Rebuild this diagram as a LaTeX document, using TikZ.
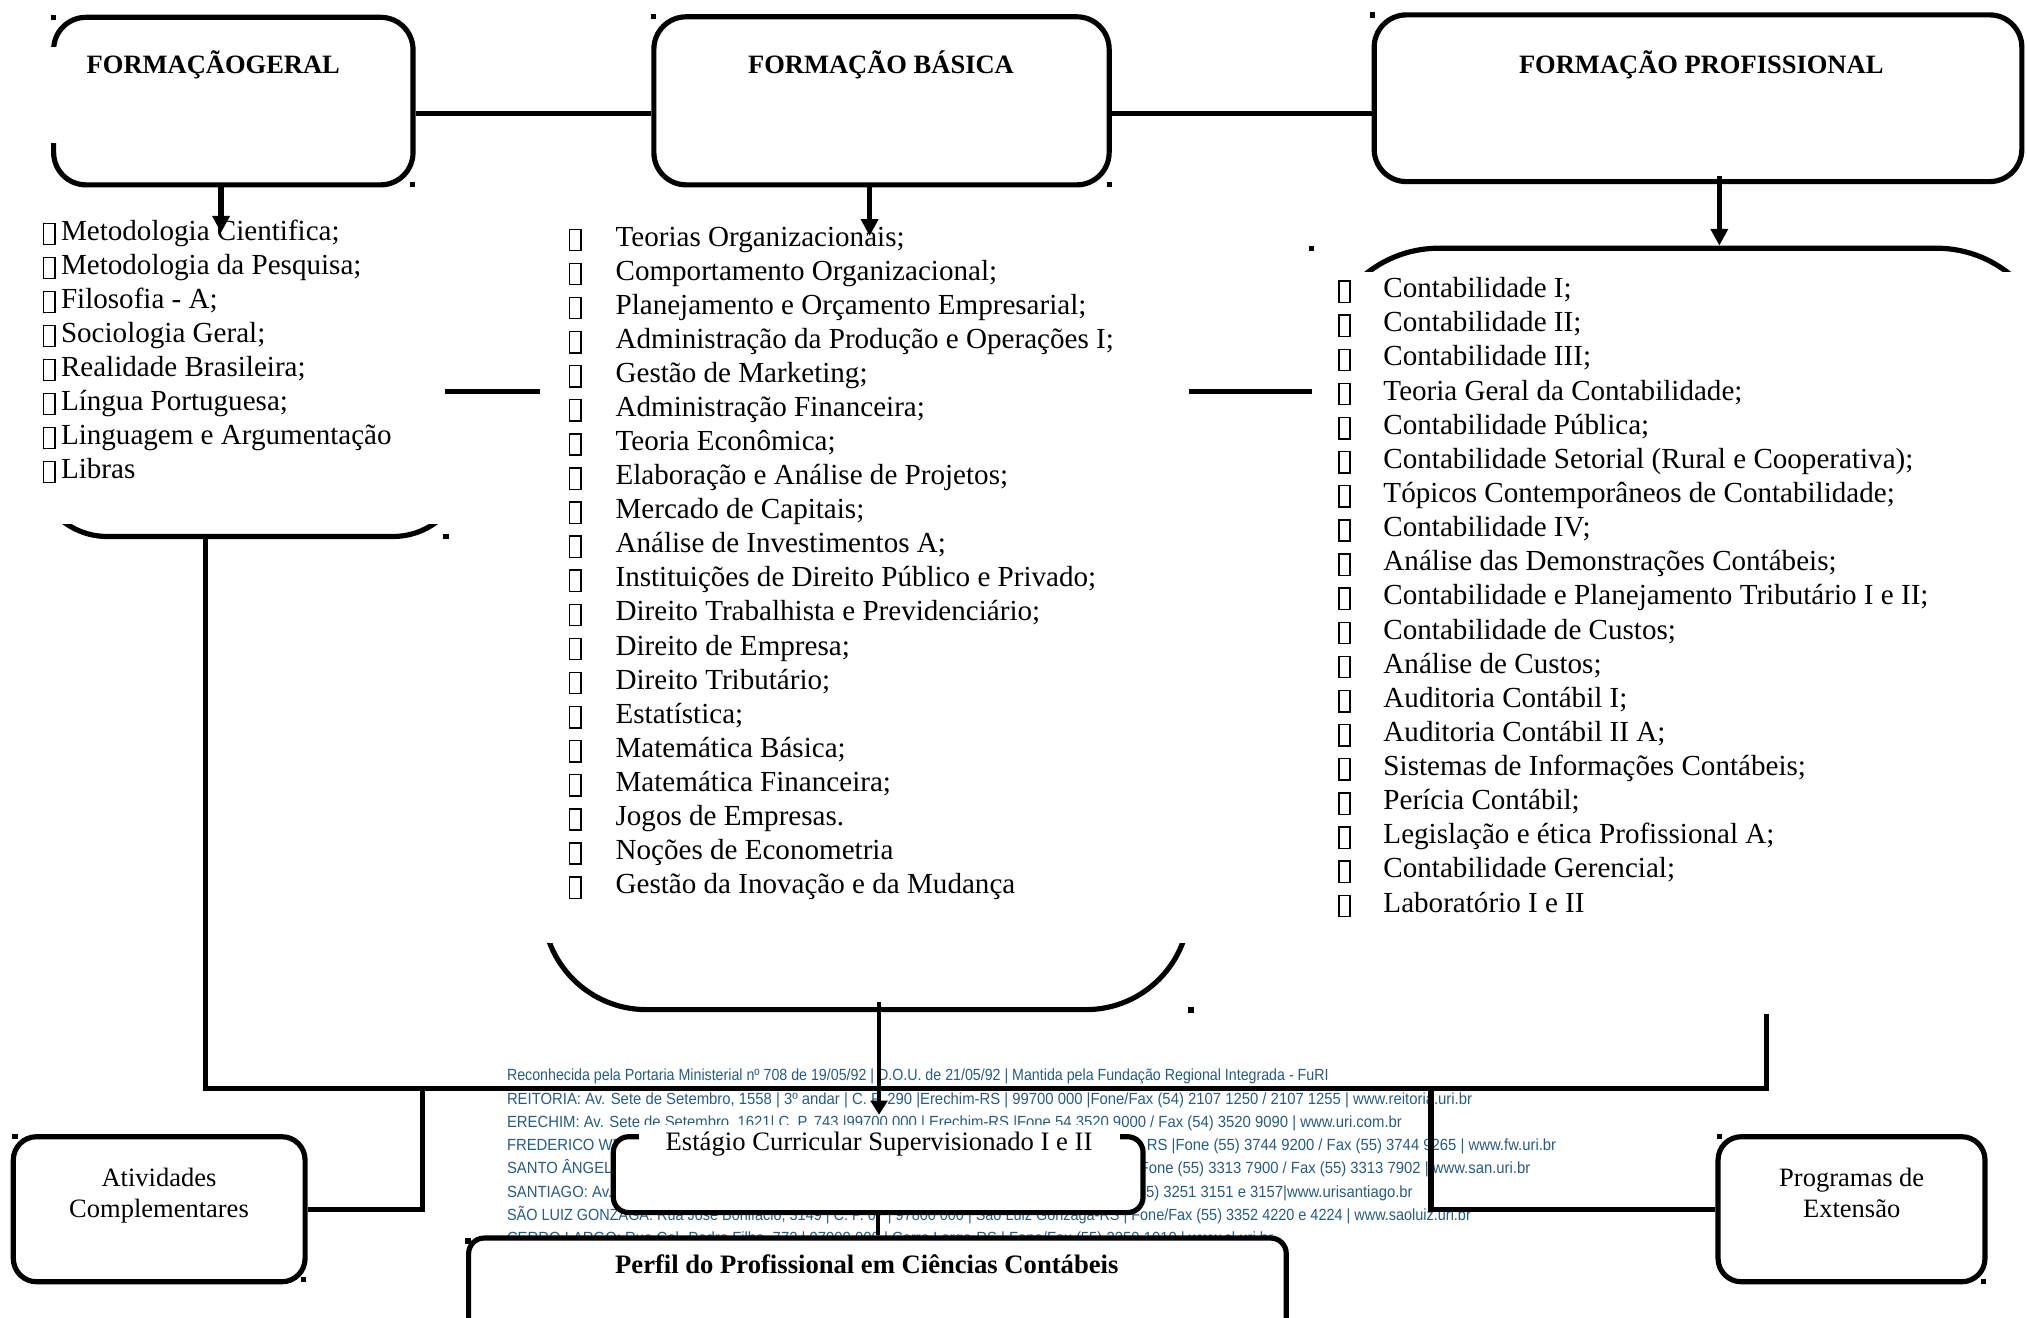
\documentclass[tikz,border=0pt]{standalone}
\usepackage{fontspec}
\setmainfont{Liberation Serif}
\newfontfamily\footfont[FakeStretch=0.92]{Liberation Sans}
\usetikzlibrary{arrows.meta}
\definecolor{footblue}{RGB}{38,92,132}
\newcommand\tofu{\raisebox{-3pt}{\setlength\fboxsep{0pt}\setlength\fboxrule{1.1pt}\fbox{\rule{0pt}{15.4pt}\hspace{7.6pt}}}}
\begin{document}
\begin{tikzpicture}[x=1pt,y=-1pt,
  bx/.style={draw, line width=4pt, rounded corners=25pt, inner sep=0pt},
  ln/.style={line width=4pt},
  arr/.style={line width=4pt, -{Triangle[length=13pt,width=13pt]}},
  hd/.style={font=\bfseries\fontsize{20.5}{24}\selectfont, inner sep=0pt, anchor=base},
  it/.style={font=\fontsize{22.5}{26}\selectfont, inner sep=0pt, anchor=base west},
  lab/.style={font=\fontsize{20.5}{23.5}\selectfont, inner sep=0pt, align=center},
  foot/.style={font=\footfont\fontsize{12.5}{13}\selectfont, text=footblue, inner sep=0pt},
  mk/.style={fill=black}
]
\useasboundingbox (0,0) rectangle (1568,1019);

% ---------- footer (letterhead) ----------
\node[foot, anchor=base west] (f1) at (392,836) {\scalebox{0.957}[1]{Reconhecida pela Portaria Ministerial nº 708 de 19/05/92 | D.O.U. de 21/05/92 | Mantida pela Fundação Regional Integrada - FuRI}};
\node[foot, anchor=base west] (f2) at (392,854) {REITORIA: Av. Sete de Setembro, 1558 | 3º andar | C. P. 290 |Erechim-RS | 99700 000 |Fone/Fax (54) 2107 1250 / 2107 1255 | www.reitoria.uri.br};
\node[foot, anchor=base west] (f3) at (392,872) {ERECHIM: Av. Sete de Setembro, 1621| C. P. 743 |99700 000 | Erechim-RS |Fone 54 3520 9000 / Fax (54) 3520 9090 | www.uri.com.br};
\node[foot, anchor=base west] (f4a) at (392,890) {FREDERICO WES};
\node[foot, anchor=base east] (f4b) at (1204,890) {RS |Fone (55) 3744 9200 / Fax (55) 3744 9265 | www.fw.uri.br};
\node[foot, anchor=base west] (f5a) at (392,908) {SANTO ÂNGELO};
\node[foot, anchor=base east] (f5b) at (1184,908) {Fone (55) 3313 7900 / Fax (55) 3313 7902 | www.san.uri.br};
\node[foot, anchor=base west] (f6a) at (392,926) {SANTIAGO: Av.};
\node[foot, anchor=base east] (f6b) at (1093,926) {5) 3251 3151 e 3157|www.urisantiago.br};
\node[foot, anchor=base west] (f7) at (392,944) {\scalebox{0.972}[1]{SÃO LUIZ GONZAGA: Rua José Bonifácio, 3149 | C. P. 07 | 97800 000 | São Luiz Gonzaga-RS | Fone/Fax (55) 3352 4220 e 4224 | www.saoluiz.uri.br}};
\node[foot, anchor=base west] (f8) at (392,962) {CERRO LARGO: Rua Cel. Pedro Filho, 772 | 97900 000 | Cerro Largo-RS | Fone/Fax (55) 3359 1010 | www.cl.uri.br};

% ---------- top boxes ----------
\node[bx, minimum width=278pt, minimum height=129.6pt] (B1) at (180.5,78.2) {};
\node[bx, minimum width=352.2pt, minimum height=130pt] (B2) at (681.9,78) {};
\node[bx, minimum width=501pt, minimum height=129pt] (B3) at (1313.5,76) {};
\fill[white] (37,36) rectangle (46,111);
\node[hd] (h1) at (165,56.7) {FORMAÇÃOGERAL};
\node[hd] (h2) at (681.5,56.7) {FORMAÇÃO BÁSICA};
\node[hd] (h3) at (1316,56.7) {FORMAÇÃO PROFISSIONAL};

\draw[ln] ([yshift=-9.8pt]B1.east) -- ([yshift=-9.8pt]B1.east -| B2.west);
\draw[ln] ([yshift=-10pt]B2.east) -- ([yshift=-10pt]B2.east -| B3.west);

% ---------- list containers (only partly visible) ----------
\begin{scope}
\clip (0,406) rectangle (400,430);
\node[bx, rounded corners=56pt, minimum width=333pt, minimum height=255pt] (Lbox) at (193.5,287.5) {};
\end{scope}
\begin{scope}
\clip (400,730) rectangle (940,800);
\node[bx, rounded corners=80pt, minimum width=500pt, minimum height=611pt] (Mbox) at (670,475.5) {};
\end{scope}
\begin{scope}
\clip (1000,180) rectangle (1568,210);
\node[bx, rounded corners=90pt, minimum width=565pt, minimum height=592pt] (Rbox) at (1305.5,488) {};
\end{scope}

% ---------- lists ----------
\foreach \t [count=\i from 0] in {Metodologia Cientifica;, Metodologia da Pesquisa;, Filosofia - A;, Sociologia Geral;, Realidade Brasileira;, Língua Portuguesa;, Linguagem e Argumentação, Libras}
  \node[it] (gen\i) at (33,{185.7+26.3*\i}) {\makebox[14pt][l]{\tofu}\t};

\foreach \t [count=\i from 0] in {Teorias Organizacionais;, Comportamento Organizacional;, Planejamento e Orçamento Empresarial;, Administração da Produção e Operações I;, Gestão de Marketing;, Administração Financeira;, Teoria Econômica;, Elaboração e Análise de Projetos;, Mercado de Capitais;, Análise de Investimentos A;, Instituições de Direito Público e Privado;, Direito Trabalhista e Previdenciário;, Direito de Empresa;, Direito Tributário;, Estatística;, Matemática Básica;, Matemática Financeira;, Jogos de Empresas., Noções de Econometria, Gestão da Inovação e da Mudança}
  \node[it] (bas\i) at (440,{190.3+26.37*\i}) {\makebox[36pt][l]{\tofu}\t};

\foreach \t [count=\i from 0] in {Contabilidade I;, Contabilidade II;, Contabilidade III;, Teoria Geral da Contabilidade;, Contabilidade Pública;, Contabilidade Setorial (Rural e Cooperativa);, Tópicos Contemporâneos de Contabilidade;, Contabilidade IV;, Análise das Demonstrações Contábeis;, Contabilidade e Planejamento Tributário I e II;, Contabilidade de Custos;, Análise de Custos;, Auditoria Contábil I;, Auditoria Contábil II A;, Sistemas de Informações Contábeis;, Perícia Contábil;, Legislação e ética Profissional A;, Contabilidade Gerencial;, Laboratório I e II}
  \node[it] (pro\i) at (1035,{230.3+26.4*\i}) {\makebox[35pt][l]{\tofu}\t};

% ---------- arrows from top boxes ----------
\draw[arr] ([xshift=-9.5pt]B1.south) -- ++(0,35);
\draw[arr] ([xshift=-9.2pt]B2.south) -- ++(0,37.5);
\draw[arr] ([xshift=16.5pt,yshift=6.5pt]B3.south) -- ([xshift=16.5pt]B3.south |- Rbox.north);

% ---------- side links between lists ----------
\coordinate (jL) at (344,303);
\coordinate (jR) at (1015,303);
\draw[ln] (jL) -- (jL -| Mbox.west);
\draw[ln] ([xshift=-2pt]Mbox.east |- jR) -- (jR);

% ---------- bottom boxes ----------
\node[bx, rounded corners=18pt, minimum width=225.7pt, minimum height=112.2pt, fill=white] (Atv) at (123.15,935.4) {};
\node[lab] (atvt) at (123,925) {Atividades\\Complementares};
\node[bx, rounded corners=18pt, minimum width=206.5pt, minimum height=112.2pt, fill=white] (Prg) at (1432.25,935.4) {};
\node[lab] (prgt) at (1432.4,922.8) {Programas de\\Extensão};

\node[bx, rounded corners=12pt, minimum width=409.8pt, minimum height=58.7pt, fill=white] (stgbox) at (679.3,908.65) {};
\node[fill=white, inner sep=0pt, minimum width=372pt, minimum height=30pt, font=\fontsize{20.6}{24}\selectfont] (stgtxt) at (680,885) {Estágio Curricular Supervisionado I e II};
\node[bx, rounded corners=12pt, minimum width=632.5pt, minimum height=87.3pt, fill=white] (perfil) at (678.75,1001.35) {};
\node[hd, font=\bfseries\fontsize{20.6}{24}\selectfont] (perft) at (670.5,985) {Perfil do Profissional em Ciências Contábeis};

% ---------- bottom connectors ----------
\coordinate (rtop) at (1366.7,784);
\coordinate (busR) at (1366.7,842);
\coordinate (busA) at (327,842);
\coordinate (busP) at (1107,842);
\coordinate (mtop) at (680,775);
\draw[ln] ([xshift=-34.5pt]Lbox.south) |- (busR) -- (rtop);
\draw[ln] (Atv.east) -| (busA);
\draw[ln] (busP) |- (Prg.west);
\draw[line width=3.2pt, -{Triangle[length=11pt,width=13pt]}, shorten >=15pt] (mtop) -- (mtop |- stgbox.north);
\draw[line width=3pt] (stgbox.south) -- (stgbox.south |- perfil.north);

% ---------- small corner markers ----------
\foreach \p in {(41.5,13.4),(319.4,143),(505.8,12.9),(858,143),(1062,11.6),(1014.6,192),(345,415),(921.3,781.3),(11.6,879.4),(234.6,990),(1330,879.3),(1534.3,991),(362,960)}
  \fill[mk] \p ++(-2,-2) rectangle ++(4,4);
\end{tikzpicture}
\end{document}
